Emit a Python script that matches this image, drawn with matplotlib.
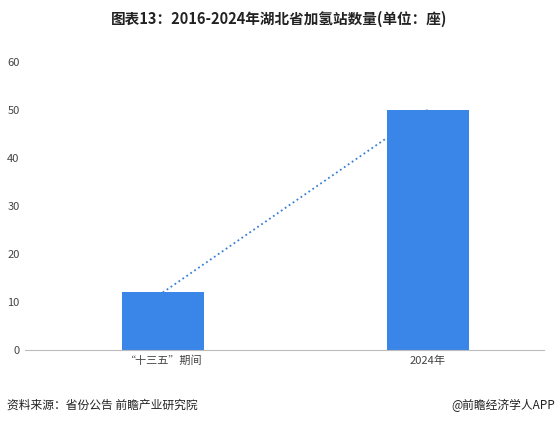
import matplotlib
matplotlib.use("Agg")
import matplotlib.pyplot as plt

plt.rcParams['font.family'] = ['Noto Sans CJK SC', 'DejaVu Sans']

categories = ["“十三五”期间", "2024年"]
values = [12, 50]
yticks = [0, 10, 20, 30, 40, 50, 60]

fig = plt.figure(figsize=(5.58, 4.26), dpi=100)
ax = fig.add_axes([0.045, 0.178, 0.93, 0.677])
x = list(range(len(categories)))
ax.plot(x, values, linestyle=':', color='#3a7fd5', linewidth=1.3, zorder=1)
ax.bar(x, values, width=0.31, color='#3a86e8', zorder=2)
ax.set_xlim(-0.52, 1.44)
ax.set_ylim(0, 60)
ax.set_yticks(yticks)
ax.set_xticks(x)
ax.set_xticklabels(categories)
ax.tick_params(axis='both', length=0, labelsize=8, colors='#444444', pad=4)
for s in ['top', 'right', 'left']:
    ax.spines[s].set_visible(False)
ax.spines['bottom'].set_color('#bbbbbb')

fig.text(0.5, 0.955, "图表13：2016-2024年湖北省加氢站数量(单位：座)", ha='center', va='center',
         fontsize=10.5, fontweight='bold', color='#222222')
fig.text(0.012, 0.048, "资料来源：省份公告 前瞻产业研究院", ha='left', va='center', fontsize=8.5, color='#222222')
fig.text(0.995, 0.048, "@前瞻经济学人APP", ha='right', va='center', fontsize=8.5, color='#222222')
fig.savefig("out.png", dpi=100)
